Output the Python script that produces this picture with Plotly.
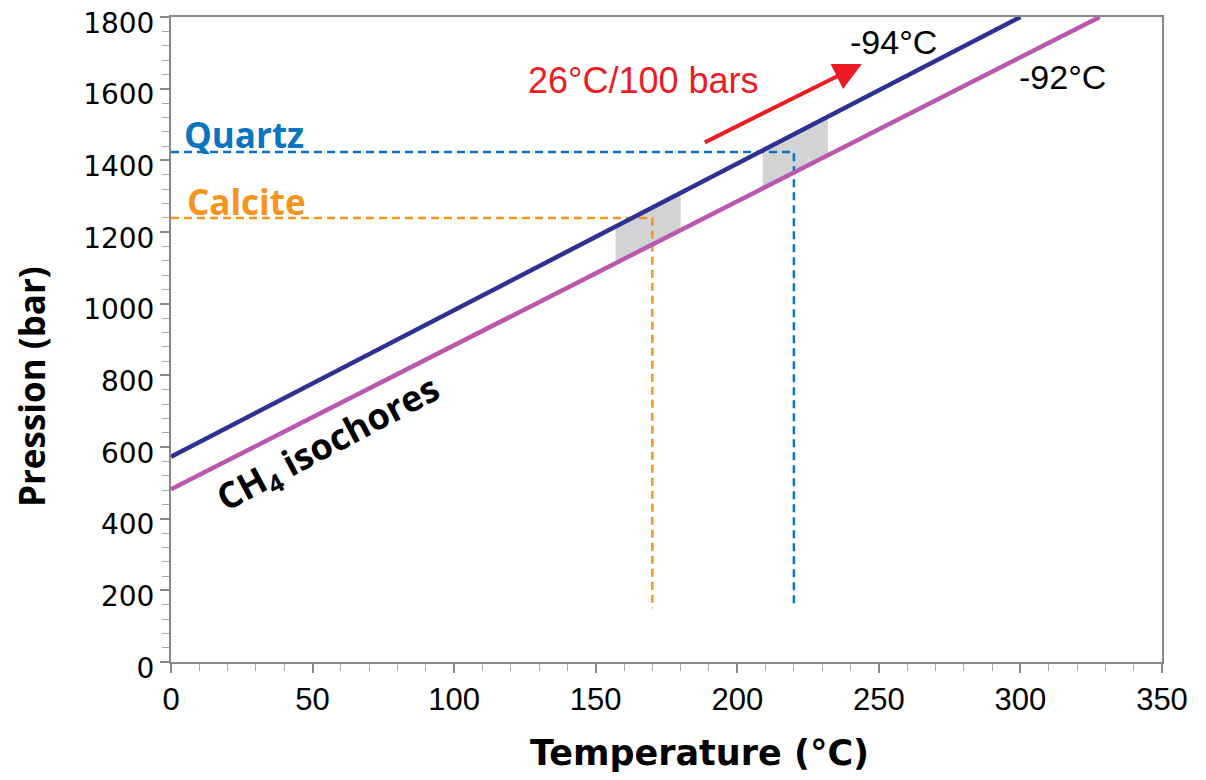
import plotly.graph_objects as go

# --- data ---
iso_names = ["-94°C", "-92°C"]
iso_T = [[0, 300], [0, 328]]          # temperature endpoints (°C)
iso_P = [[573, 1800], [482, 1800]]    # pressure endpoints (bar)
iso_colors = ["#2E3192", "#BA58B0"]

minerals = ["Quartz", "Calcite"]
mineral_T = [220, 170]                # homogenisation temperature (°C)
mineral_P = [1423, 1239]              # pressure (bar)
mineral_Pmin = [150, 150]
mineral_colors = ["#0A74C0", "#F7941D"]

box_T = [[209, 232], [157, 180]]      # grey intersection zones (°C)

x_ticks = [0, 50, 100, 150, 200, 250, 300, 350]
y_ticks = [0, 200, 400, 600, 800, 1000, 1200, 1400, 1600, 1800]

arrow_T = [188, 244]
arrow_P = [1448, 1669]


def iso_p(i, t):
    t0, t1 = iso_T[i]
    p0, p1 = iso_P[i]
    return p0 + (p1 - p0) * (t - t0) / (t1 - t0)


fig = go.Figure()

# grey zones between the two isochores
for (a, b) in box_T:
    ts = [a, b, b, a, a]
    ps = [iso_p(0, a), iso_p(0, b), iso_p(1, b), iso_p(1, a), iso_p(0, a)]
    fig.add_trace(go.Scatter(x=ts, y=ps, mode="lines", fill="toself",
                             fillcolor="#D1D3D4", line=dict(width=0),
                             hoverinfo="skip", showlegend=False))

# dashed mineral lines
for name, t, p, pm, c in zip(minerals, mineral_T, mineral_P, mineral_Pmin, mineral_colors):
    fig.add_trace(go.Scatter(x=[0, t, t], y=[p, p, pm], mode="lines",
                             line=dict(color=c, width=2.5, dash="8px,5px"),
                             showlegend=False, name=name))

# isochores
for i in range(2):
    fig.add_trace(go.Scatter(x=iso_T[i], y=iso_P[i], mode="lines",
                             line=dict(color=iso_colors[i], width=4.5),
                             showlegend=False, name=iso_names[i]))

# page pixel -> paper coordinate (page has an 8px body margin)
def xp(px):
    return (px - 171) / 991

def yp(py):
    return (662 - py) / 645

annotations = [
    dict(x=xp(699), y=yp(753), xref="paper", yref="paper", text="<b>Temperature (°C)</b>",
         xanchor="center", yanchor="middle",
         showarrow=False, font=dict(family="DejaVu Sans", size=35, color="black")),
    dict(x=xp(31), y=yp(387), xref="paper", yref="paper", text="<b>Pression (bar)</b>",
         xanchor="center", yanchor="middle",
         showarrow=False, textangle=-90, font=dict(family="Open Sans", size=35, color="black")),
    dict(x=4, y=1471, xref="x", yref="y", text="<b>Quartz</b>", xanchor="left",
         showarrow=False, font=dict(family="Open Sans", size=35, color=mineral_colors[0])),
    dict(x=5, y=1284, xref="x", yref="y", text="<b>Calcite</b>", xanchor="left",
         showarrow=False, font=dict(family="Open Sans", size=35, color=mineral_colors[1])),
    dict(x=55.5, y=606, xref="x", yref="y", text="<b>CH<sub>4</sub> isochores</b>",
         textangle=-28, showarrow=False, font=dict(family="Open Sans", size=36, color="black")),
    dict(x=255, y=1730, xref="x", yref="y", text=iso_names[0], showarrow=False,
         font=dict(family="Liberation Sans", size=34, color="black")),
    dict(x=314.7, y=1633, xref="x", yref="y", text=iso_names[1], showarrow=False,
         font=dict(family="Liberation Sans", size=34, color="black")),
    dict(x=166.7, y=1624, xref="x", yref="y", text="26°C/100 bars", showarrow=False,
         font=dict(family="Liberation Sans", size=36, color="#ED1C24")),
    dict(x=arrow_T[1], y=arrow_P[1], ax=arrow_T[0], ay=arrow_P[0], xref="x", yref="y",
         axref="x", ayref="y", text="", showarrow=True, arrowhead=2, arrowsize=1.4,
         arrowwidth=4, arrowcolor="#ED1C24"),
]

axis_common = dict(showgrid=False, zeroline=False, showline=True, linecolor="#888888",
                   linewidth=2, mirror=True, ticks="outside", tickcolor="#888888",
                   tickwidth=1.5, ticklen=9, automargin=False, ticklabeloverflow="allow")

fig.update_layout(
    width=1190, height=764,
    margin=dict(l=163, r=36, t=9, b=110, autoexpand=False),
    paper_bgcolor="white", plot_bgcolor="white",
    annotations=annotations,
    xaxis=dict(range=[0, 350], tickvals=x_ticks, ticktext=[str(v) for v in x_ticks],
               tickfont=dict(family="Liberation Sans", size=31, color="black"),
               minor=dict(dtick=10, ticks="outside", ticklen=7, tickcolor="#AAAAAA", tickwidth=1),
               **axis_common),
    yaxis=dict(range=[0, 1800], tickvals=y_ticks, ticktext=[str(v) for v in y_ticks],
               tickfont=dict(family="DejaVu Sans", size=28, color="black"),
               ticklabelshift=6,
               minor=dict(dtick=40, ticks="outside", ticklen=7, tickcolor="#AAAAAA", tickwidth=1),
               **axis_common),
)

fig.write_html("out.html")
